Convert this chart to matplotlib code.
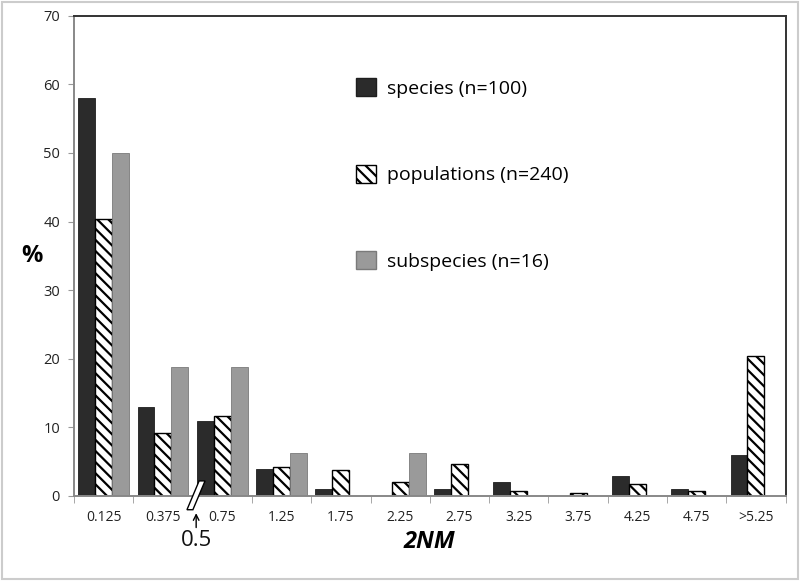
import numpy as np
import matplotlib
matplotlib.use("Agg")
import matplotlib.pyplot as plt
from matplotlib.patches import Patch, Polygon, Rectangle

plt.rcParams['font.family'] = ['Open Sans', 'DejaVu Sans']
plt.rcParams['hatch.linewidth'] = 1.6

# -----------------------
# Data
# -----------------------
categories = ['0.125', '0.375', '0.75', '1.25', '1.75', '2.25', '2.75',
              '3.25', '3.75', '4.25', '4.75', '>5.25']
species = [58, 12.9, 10.9, 3.9, 1, 0, 1, 2, 0, 2.9, 1, 6]
populations = [40.4, 9.2, 11.7, 4.2, 3.8, 2.1, 4.6, 0.8, 0.4, 1.7, 0.8, 20.4]
subspecies = [50, 18.75, 18.75, 6.25, 0, 6.25, 0, 0, 0, 0, 0, 0]
labels = ['species (n=100)', 'populations (n=240)', 'subspecies (n=16)']

HATCH = '\\\\\\'

fig = plt.figure(figsize=(8, 5.81), dpi=100)
ax = fig.add_axes([0.0925, 0.1463, 0.8895, 0.8267])

x = np.arange(len(categories))
w = 0.285
ax.bar(x - w, species, w, color='#2b2b2b', edgecolor='#1e1e1e', linewidth=0.6)
ax.bar(x, populations, w, color='white', edgecolor='black', hatch=HATCH, linewidth=1.0)
ax.bar(x + w, subspecies, w, color='#9a9a9a', edgecolor='#7a7a7a', linewidth=0.6)

ax.set_xlim(-0.5, len(categories) - 0.5)
ax.set_ylim(0, 70)
ax.set_yticks(range(0, 71, 10))
ax.set_xticks(x)
ax.set_xticklabels(categories, fontsize=10, color='#222222')
ax.set_xticks(np.arange(-0.5, len(categories) + 0.5, 1), minor=True)
ax.tick_params(axis='x', which='major', length=0, pad=10)
ax.tick_params(axis='x', which='minor', length=5, color='#999999', direction='out')
ax.tick_params(axis='y', length=4, color='#999999', labelsize=10.5, labelcolor='#222222', pad=6)

for s in ['top', 'right']:
    ax.spines[s].set_color('#333333')
    ax.spines[s].set_linewidth(1.4)
for s in ['left', 'bottom']:
    ax.spines[s].set_color('#888888')
    ax.spines[s].set_linewidth(1.4)

ax.set_ylabel('%', fontsize=17, fontweight='bold', rotation=0, labelpad=8, va='center')
ax.set_xlabel('2NM', fontsize=17, fontweight='bold', style='italic', labelpad=4)

# legend
handles = [Patch(facecolor='#2b2b2b', edgecolor='#1e1e1e'),
           Patch(facecolor='white', edgecolor='black', hatch=HATCH),
           Patch(facecolor='#9a9a9a', edgecolor='#7a7a7a')]
ax.legend(handles, labels, loc='upper left', bbox_to_anchor=(0.372, 0.907), frameon=False,
          fontsize=14, handlelength=1.0, handleheight=1.05, handletextpad=0.6,
          labelspacing=3.45)

# axis-break marker between 0.375 and 0.75, with "0.5" pointer
bx = 1.5
brk = Polygon([[bx - 0.095, -2.0], [bx + 0.005, -2.0], [bx + 0.21, 2.2], [bx + 0.11, 2.2]],
              closed=True, facecolor='white', edgecolor='black', lw=1.0, clip_on=False, zorder=5)
ax.add_patch(brk)
ax.annotate('', xy=(bx + 0.06, -2.1), xytext=(bx + 0.06, -5.0),
            arrowprops=dict(arrowstyle='->', color='black', lw=1.0), annotation_clip=False)
ax.text(bx + 0.06, -4.9, '0.5', ha='center', va='top', fontsize=16, color='#111111')

# outer frame
fig.patches.append(Rectangle((0.002, 0.003), 0.996, 0.994, transform=fig.transFigure,
                             fill=False, edgecolor='#cccccc', lw=1.5))

fig.savefig('out.png', dpi=100)
